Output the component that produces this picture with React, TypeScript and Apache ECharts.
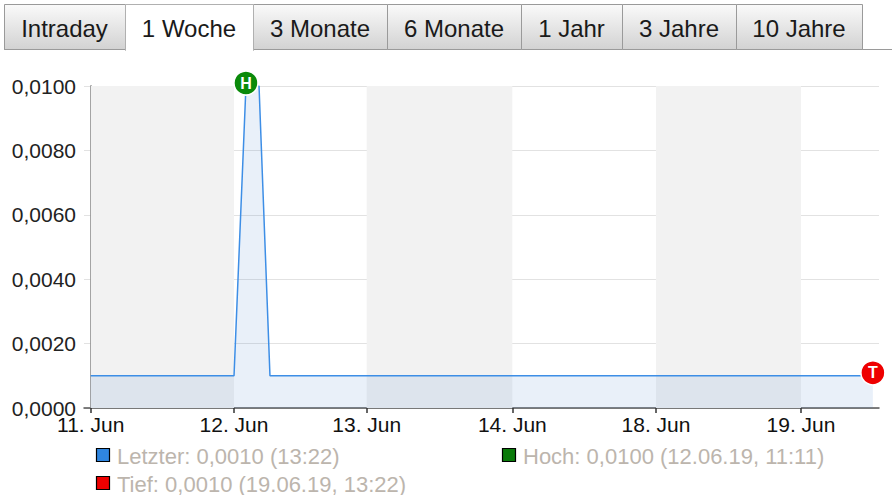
import React, { useEffect, useRef } from "react";
import * as echarts from "echarts";

// Time positions in trading-day units (11. Jun = 0, 19. Jun = 5)
const tickPositions = [0, 1.009, 1.943, 2.968, 3.979, 5.0];
const tickLabels = ["11. Jun", "12. Jun", "13. Jun", "14. Jun", "18. Jun", "19. Jun"];

const priceX = [0, 1.009, 1.093, 1.185, 1.262, 5.506];
const priceY = [0.001, 0.001, 0.01, 0.01, 0.001, 0.001];

const bandStarts = [0, 1.943, 3.979];
const bandEnds = [1.009, 2.968, 5.0];

const tabLabels = ["Intraday", "1 Woche", "3 Monate", "6 Monate", "1 Jahr", "3 Jahre", "10 Jahre"];
const tabEdges = [4, 125, 253, 387, 521, 622, 736, 862];
const activeTab = 1;

const legendLabels = [
  "Letzter: 0,0010 (13:22)",
  "Hoch: 0,0100 (12.06.19, 11:11)",
  "Tief: 0,0010 (19.06.19, 13:22)",
];
const legendColors = ["#2f86e0", "#0a7a0a", "#ee0000"];

const highIndex = 2;
const lowIndex = 5;

const FONT = "'Liberation Sans', Arial, sans-serif";

export default function App() {
  const ref = useRef<HTMLDivElement>(null);
  useEffect(() => {
    if (!ref.current) return;
    const chart = echarts.init(ref.current, null, { renderer: "svg" });

    const graphics: any[] = [];
    // tabs
    graphics.push({
      type: "line",
      shape: { x1: 4, y1: 49.5, x2: 892, y2: 49.5 },
      style: { stroke: "#9a9a9a", lineWidth: 1 },
      z: 1,
    });
    tabLabels.forEach((lab, i) => {
      const x0 = tabEdges[i];
      const x1 = tabEdges[i + 1];
      const active = i === activeTab;
      graphics.push({
        type: "rect",
        shape: { x: x0 + 0.5, y: 4.5, width: x1 - x0, height: active ? 46 : 45 },
        style: {
          fill: active
            ? "#ffffff"
            : new echarts.graphic.LinearGradient(0, 0, 0, 1, [
                { offset: 0, color: "#fafafa" },
                { offset: 1, color: "#d2d2d2" },
              ]),
          stroke: active ? "#b0b0b0" : "#9a9a9a",
          lineWidth: 1,
        },
        z: active ? 3 : 2,
      });
      if (active) {
        graphics.push({
          type: "rect",
          shape: { x: x0 + 1, y: 48, width: x1 - x0 - 1, height: 3 },
          style: { fill: "#ffffff" },
          z: 4,
        });
      }
      graphics.push({
        type: "text",
        x: (x0 + x1) / 2,
        y: 28,
        style: {
          text: lab,
          fill: "#1a1a1a",
          font: `24px ${FONT}`,
          align: "center",
          verticalAlign: "middle",
        },
        z: 5,
      });
    });
    // legend
    const legPos = [
      [96, 455],
      [502, 455],
      [96, 483],
    ];
    legendLabels.forEach((lab, i) => {
      const [lx, ly] = legPos[i];
      graphics.push({
        type: "rect",
        shape: { x: lx + 0.5, y: ly - 6.5, width: 13, height: 13 },
        style: { fill: legendColors[i], stroke: "#000", lineWidth: 1.2 },
      });
      graphics.push({
        type: "text",
        x: lx + 21,
        y: ly + 1,
        style: {
          text: lab,
          fill: "#bcb5ad",
          font: `22px ${FONT}`,
          verticalAlign: "middle",
        },
      });
    });

    const lineData = priceX.map((x, i) => [x, priceY[i]]);

    chart.setOption({
      animation: false,
      grid: { left: 84, right: 13, top: 86, bottom: 87, containLabel: false },
      xAxis: {
        type: "value",
        min: -0.047,
        max: 5.549,
        axisLine: { show: true, lineStyle: { color: "#555", width: 1.5 } },
        axisTick: {
          show: true,
          customValues: tickPositions,
          length: 5,
          lineStyle: { color: "#333", width: 1.5 },
        },
        axisLabel: {
          customValues: tickPositions,
          color: "#111",
          fontFamily: FONT,
          fontSize: 21,
          margin: 6,
          formatter: (v: number) => {
            let best = 0;
            tickPositions.forEach((t, i) => {
              if (Math.abs(t - v) < Math.abs(tickPositions[best] - v)) best = i;
            });
            return tickLabels[best];
          },
        },
        splitLine: { show: false },
      },
      yAxis: {
        type: "value",
        min: 0,
        max: 0.01,
        interval: 0.002,
        axisLine: { show: true, lineStyle: { color: "#555", width: 1.5 } },
        axisTick: { show: false },
        axisLabel: {
          color: "#222",
          fontFamily: FONT,
          fontSize: 21,
          margin: 8,
          formatter: (v: number) => v.toFixed(4).replace(".", ","),
        },
        splitLine: { show: true, lineStyle: { color: "#e2e2e2", width: 1 } },
      },
      series: [
        {
          type: "line",
          name: "bands",
          z: 1,
          data: [],
          markArea: {
            silent: true,
            itemStyle: { color: "#f2f2f2" },
            data: bandStarts.map((s, i) => [{ xAxis: s }, { xAxis: bandEnds[i] }]),
          },
        },
        {
          type: "line",
          name: "Letzter",
          z: 2,
          data: lineData,
          showSymbol: false,
          symbol: "none",
          lineStyle: { color: "#3d8ee6", width: 1.5 },
          areaStyle: { color: "rgba(70,130,200,0.17)" },
          markPoint: {
            symbol: "circle",
            symbolSize: 24,
            symbolOffset: [0, -3],
            label: {
              show: true,
              color: "#fff",
              fontFamily: FONT,
              fontWeight: "bold",
              fontSize: 16,
              offset: [0, 0],
            },
            data: [
              {
                coord: lineData[highIndex],
                itemStyle: { color: "#0a8a0a", borderColor: "#fff", borderWidth: 1.5 },
                label: { formatter: "H" },
              },
              {
                coord: lineData[lowIndex],
                itemStyle: { color: "#ee0000", borderColor: "#fff", borderWidth: 1.5 },
                label: { formatter: "T" },
              },
            ],
          },
        },
      ],
      graphic: graphics,
    });
    return () => chart.dispose();
  }, []);
  return (
    <div
      ref={ref}
      style={{ position: "absolute", left: 0, top: 0, width: 892, height: 495, background: "#fff" }}
    />
  );
}
